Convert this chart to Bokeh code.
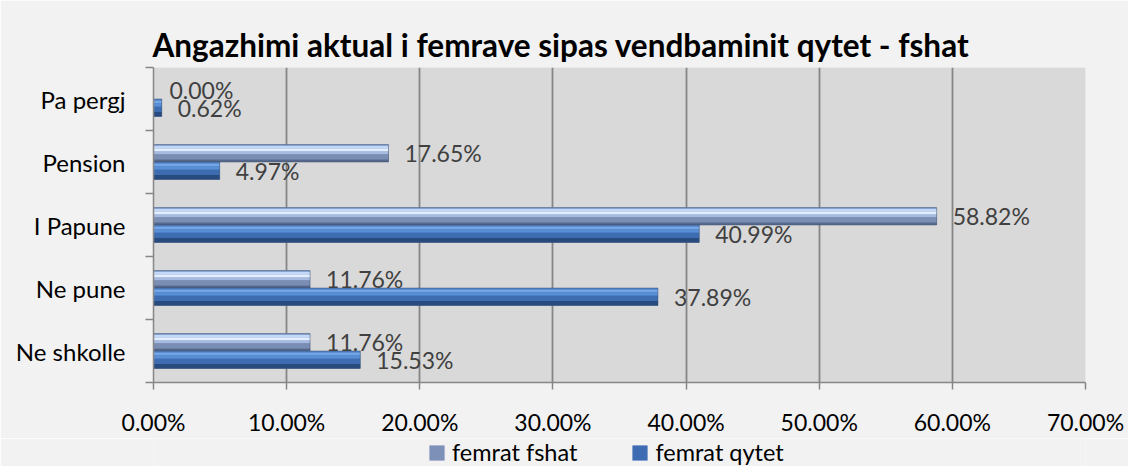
from bokeh.plotting import figure
from bokeh.layouts import column
from bokeh.models import (ColumnDataSource, LabelSet, FixedTicker, PrintfTickFormatter,
                          Legend, LegendItem, Range1d)
from bokeh.core.properties import value
from bokeh.embed import file_html
from bokeh.resources import INLINE

# ---- data ----
categories = ["Ne shkolle", "Ne pune", "I Papune", "Pension", "Pa pergj"]
fshat = [11.76, 11.76, 58.82, 17.65, 0.00]
qytet = [15.53, 37.89, 40.99, 4.97, 0.62]
series_names = ["femrat fshat", "femrat qytet"]
x_ticks = [0, 10, 20, 30, 40, 50, 60, 70]
title_text = "Angazhimi aktual i femrave sipas vendbaminit qytet - fshat"

FONT = "Lato"
W = 1128
H_MAIN, H_LEG = 438, 28
BG = "#f2f2f2"
LEFT = 153
n = len(categories)
pos = list(range(1, n + 1))  # band centres
p = figure(width=W, height=H_MAIN, output_backend="svg", toolbar_location=None,
           x_range=Range1d(x_ticks[0], x_ticks[-1]), y_range=Range1d(0.5, n + 0.5),
           min_border_left=LEFT, min_border_right=43, min_border_top=67, min_border_bottom=54)
p.border_fill_color = BG
p.background_fill_color = "#d9d9d9"
p.outline_line_color = None

p.title.text = title_text
p.title.text_font = FONT
p.title.text_font_style = "bold"
p.title.text_font_size = "31.5px"
p.title.text_color = "#000000"
p.title.align = "left"
p.title.offset = -1
p.title.standoff = 7

bar_h = 0.276
off = bar_h / 2

# stripes (from top fraction, to fraction, colour) to fake the bevelled look
stripes = {
    "femrat fshat": ("#8198c2", [(0.0, 0.08, "#8ea6d2"), (0.08, 0.22, "#c3d8f6"),
                                 (0.22, 0.40, "#e2eeff"), (0.40, 0.55, "#a6bbdf"),
                                 (0.55, 0.85, "#7a8db2"), (0.85, 1.0, "#55688c")]),
    "femrat qytet": ("#3f72b8", [(0.0, 0.08, "#4f80c4"), (0.08, 0.25, "#74a5e6"),
                                 (0.25, 0.45, "#5a8fd6"), (0.45, 0.75, "#3d6db0"),
                                 (0.75, 1.0, "#284b7f")]),
}

label_sources = []
for name, vals, shift in [(series_names[0], fshat, off), (series_names[1], qytet, -off)]:
    centers = [c + shift for c in pos]
    base_col, st = stripes[name]
    src = ColumnDataSource(dict(y=centers, v=vals))
    p.hbar(y="y", right="v", left=0, height=bar_h, source=src,
           fill_color=base_col, line_color=None)
    for f0, f1, col in st:
        ys = [c + bar_h / 2 - (f0 + f1) / 2 * bar_h for c in centers]
        s2 = ColumnDataSource(dict(y=ys, v=vals))
        p.hbar(y="y", right="v", left=0, height=(f1 - f0) * bar_h, source=s2,
               fill_color=col, line_color=None)
    p.hbar(y="y", right="v", left=0, height=bar_h, source=src,
           fill_color=None, line_color="#3a4d70", line_width=0.8, line_alpha=0.6)
    label_sources.append(ColumnDataSource(dict(y=centers, v=vals,
                                               t=["%.2f%%" % v for v in vals])))

for s in label_sources:
    p.add_layout(LabelSet(x="v", y="y", text="t", source=s, x_offset=16, y_offset=0,
                          text_baseline="middle", text_align="left",
                          text_font=value(FONT), text_font_size="23px", text_color="#404040"))

# x axis
p.xaxis.ticker = FixedTicker(ticks=x_ticks)
p.xaxis.formatter = PrintfTickFormatter(format="%.2f%%")
p.xaxis.major_label_text_font = FONT
p.xaxis.major_label_text_font_size = "23px"
p.xaxis.major_label_text_color = "#000000"
p.xaxis.major_tick_out = 7
p.xaxis.major_tick_in = 0
p.xaxis.minor_tick_out = 0
p.xaxis.minor_tick_in = 0
p.xaxis.major_label_standoff = 18
p.xaxis.axis_line_color = "#868686"
p.xaxis.axis_line_width = 1.5
p.xaxis.major_tick_line_color = "#868686"
p.xaxis.major_tick_line_width = 1.5

# y axis: labels at band centres, tick marks at band edges
p.yaxis.ticker = FixedTicker(ticks=pos, minor_ticks=[c - 0.5 for c in pos] + [n + 0.5])
p.yaxis.major_label_overrides = {c: cat for c, cat in zip(pos, categories)}
p.yaxis.major_label_text_font = FONT
p.yaxis.major_label_text_font_size = "24px"
p.yaxis.major_label_text_color = "#000000"
p.yaxis.major_tick_out = 0
p.yaxis.major_tick_in = 0
p.yaxis.minor_tick_out = 8
p.yaxis.minor_tick_in = 0
p.yaxis.minor_tick_line_color = "#868686"
p.yaxis.minor_tick_line_width = 1.5
p.yaxis.major_label_standoff = 20
p.yaxis.axis_line_color = "#868686"
p.yaxis.axis_line_width = 1.5

p.xgrid.ticker = FixedTicker(ticks=x_ticks)
p.xgrid.grid_line_color = "#868686"
p.xgrid.grid_line_width = 1.8
p.ygrid.grid_line_color = None

# ---- legend strip ----
q = figure(width=W, height=H_LEG, output_backend="svg", toolbar_location=None,
           x_range=Range1d(0, 1), y_range=Range1d(0, 1),
           min_border_left=0, min_border_right=0, min_border_top=0, min_border_bottom=0,
           x_axis_type=None, y_axis_type=None)
q.border_fill_color = BG
q.background_fill_color = BG
q.outline_line_color = None
q.xgrid.grid_line_color = None
q.ygrid.grid_line_color = None
legend_cols = {"femrat fshat": "#7d90b8", "femrat qytet": "#3d6cb2"}
items = []
for name in series_names:
    # legend swatch only: a zero-width bar, so nothing shows in the strip itself
    r = q.hbar(y=[0.5], left=[0], right=[0], height=0.5, fill_color=legend_cols[name],
               line_color=None)
    items.append(LegendItem(label=name, renderers=[r]))
legend = Legend(items=items, orientation="horizontal", location=(274, 0),
                glyph_width=19, glyph_height=19, label_standoff=6, spacing=53,
                label_height=19, label_text_baseline="middle",
                label_text_font=FONT, label_text_font_size="23.5px", label_text_color="#000000",
                background_fill_alpha=0, border_line_color=None, padding=0, margin=0)
q.add_layout(legend, "center")

open("out.html", "w").write(file_html(column(p, q, spacing=0), INLINE))
